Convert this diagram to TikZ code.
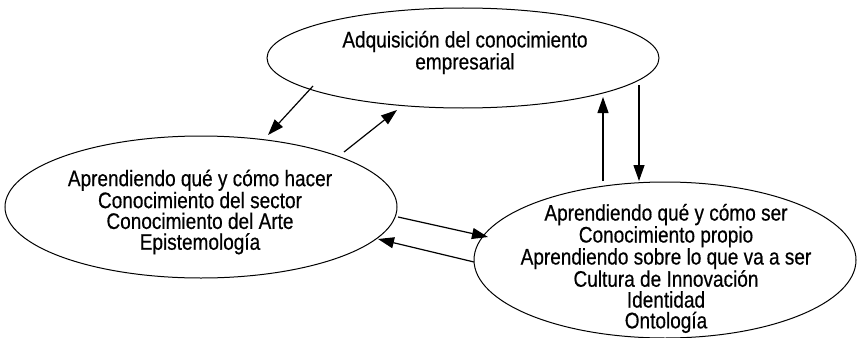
\documentclass[tikz,border=0pt]{standalone}
\usepackage{fontspec}
\setmainfont[FakeStretch=0.845,FakeBold=0.5]{Liberation Sans}
\usetikzlibrary{shapes.geometric,arrows.meta}
\tikzset{
  oval/.style={draw=black, line width=1pt, ellipse, inner sep=0pt},
  lbl/.style={align=center, inner sep=0pt, font=\fontsize{22.5}{20.8}\selectfont},
  conn/.style={line width=1.2pt, -{Triangle[length=16pt,width=11pt]}}
}
\begin{document}
\begin{tikzpicture}[x=1pt,y=-1pt]
\useasboundingbox (0,0) rectangle (858,337);
\node[oval, minimum width=392pt, minimum height=100pt] (top) at (463,58) {};
\node[oval, minimum width=392pt, minimum height=142pt] (left) at (201,207) {};
\node[oval, minimum width=382pt, minimum height=156pt] (right) at (665,260) {};
\node[lbl] (toptxt) at (465,52.5) {Adquisición del conocimiento\\empresarial};
\node[lbl] (lefttxt) at (200,212) {Aprendiendo qué y cómo hacer\\Conocimiento del sector\\Conocimiento del Arte\\Epistemología};
\node[lbl] (righttxt) at (666,268.5) {Aprendiendo qué y cómo ser\\Conocimiento propio\\Aprendiendo sobre lo que va a ser\\Cultura de Innovación\\Identidad\\Ontología};
\coordinate (a1s) at (313,86);  \coordinate (a1e) at (268,135);
\coordinate (a2s) at (344,152); \coordinate (a2e) at (397,110);
\coordinate (a3s) at (398,217); \coordinate (a3e) at (488,237);
\coordinate (a4s) at (474,262); \coordinate (a4e) at (378,239);
\coordinate (a5s) at (603,181); \coordinate (a5e) at (603,97);
\coordinate (a6s) at (639,85);  \coordinate (a6e) at (639,181);
\draw[conn] (a1s) -- (a1e);
\draw[conn] (a2s) -- (a2e);
\draw[conn] (a3s) -- (a3e);
\draw[conn] (a4s) -- (a4e);
\draw[conn] (a5s) -- (a5e);
\draw[conn] (a6s) -- (a6e);
\end{tikzpicture}
\end{document}
